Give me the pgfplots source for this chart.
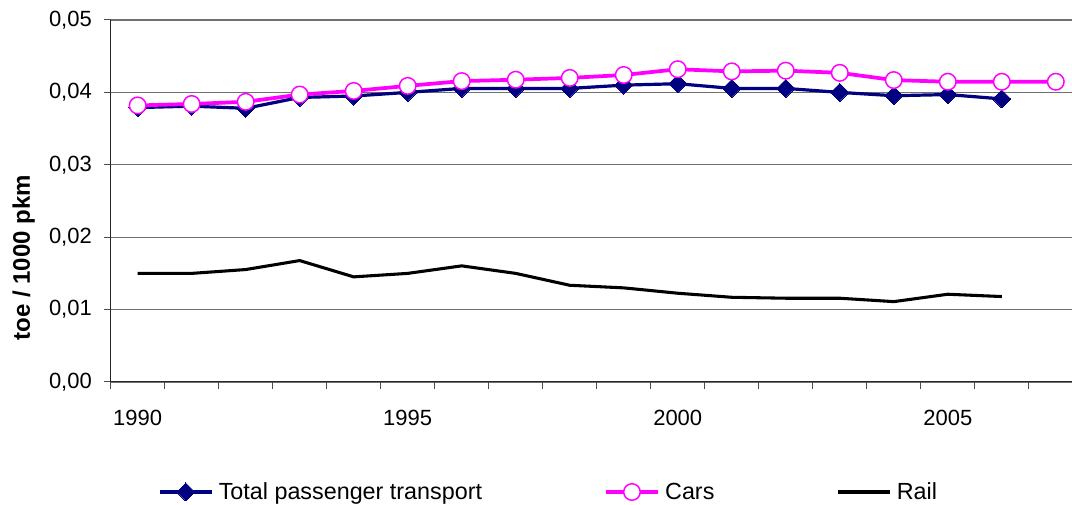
\documentclass[border=0pt]{standalone}
\usepackage{fontspec}
\setmainfont{Liberation Sans}
\usepackage{pgfplots}
\pgfplotsset{compat=1.18}
\definecolor{navyc}{HTML}{000080}
\definecolor{magc}{HTML}{FF00FF}
\definecolor{gridc}{HTML}{707070}
\begin{document}
\begin{tikzpicture}
\begin{axis}[
  name=ax,
  scale only axis,
  width=721pt, height=271.5pt,
  xmin=1989.5, xmax=2007.3,
  ymin=0, ymax=0.05,
  axis x line*=bottom, axis y line*=left,
  axis line style={-, draw=black!85, line width=0.75pt},
  tick align=outside,
  xtick={1989.5,1990.5,...,2006.5},
  xticklabels={},
  extra x ticks={1990,1995,2000,2005},
  extra x tick labels={1990,1995,2000,2005},
  extra x tick style={major tick length=0pt, grid=none},
  major tick length=5.25pt,
  tick style={draw=black!70, line width=0.75pt},
  ytick={0,0.01,0.02,0.03,0.04,0.05},
  scaled y ticks=false,
  ymajorgrids,
  major grid style={draw=gridc, line width=0.9pt},
  /pgf/number format/assume math mode=true,
  /pgf/number format/fixed,
  /pgf/number format/fixed zerofill,
  /pgf/number format/precision=2,
  /pgf/number format/use comma,
  yticklabel style={anchor=east, inner sep=0pt, xshift=-8.7pt},
  xticklabel style={anchor=center, inner sep=0pt, yshift=-26.6pt},
  tick label style={font=\fontsize{16.5}{20}\selectfont},
  ylabel={\textbf{toe / 1000 pkm}},
  ylabel style={at={(axis description cs:-0.0906,0.343)}, anchor=center, font=\fontsize{18}{21}\selectfont},
  legend columns=3,
  legend style={at={(axis description cs:0,0)}, anchor=west, xshift=35.5pt, yshift=-82.5pt,
    draw=none, fill=none, inner sep=0pt, font=\fontsize{17.5}{21}\selectfont,
    /tikz/every odd column/.append style={column sep=2pt},
    /tikz/every even column/.append style={column sep=89.5pt}},
  legend image code/.code={\draw[mark repeat=2,mark phase=2] plot coordinates {(0pt,0pt) (19.5pt,0pt) (39pt,0pt)};},
  clip=false,
]
\addplot[navyc, line width=2.4pt, mark=square*, mark size=4.77pt,
  mark options={rotate=45, fill=navyc, draw=navyc, line width=0pt, solid}]
 coordinates {
 (1990,0.0379) (1991,0.0381) (1992,0.0378) (1993,0.0393) (1994,0.0395)
 (1995,0.0400) (1996,0.04055) (1997,0.04055) (1998,0.04055) (1999,0.0410)
 (2000,0.0412) (2001,0.04055) (2002,0.04055) (2003,0.0400) (2004,0.03954)
 (2005,0.0397) (2006,0.0391)
 };
\addlegendentry{Total passenger transport}
\addplot[magc, line width=2.8pt, mark=*, mark size=6.2pt,
  mark options={fill=white, draw=magc, line width=1.1pt, solid}]
 coordinates {
 (1990,0.0382) (1991,0.0384) (1992,0.0387) (1993,0.0397) (1994,0.0402)
 (1995,0.0409) (1996,0.04156) (1997,0.04175) (1998,0.0420) (1999,0.0424)
 (2000,0.0432) (2001,0.0429) (2002,0.0430) (2003,0.0427) (2004,0.0417)
 (2005,0.04147) (2006,0.04147) (2007,0.04147)
 };
\addlegendentry{Cars}
\addplot[black, line width=2.3pt, mark=none]
 coordinates {
 (1990,0.0150) (1991,0.0150) (1992,0.01553) (1993,0.01677) (1994,0.01452)
 (1995,0.0150) (1996,0.01604) (1997,0.0150) (1998,0.01336) (1999,0.0130)
 (2000,0.01226) (2001,0.0117) (2002,0.01157) (2003,0.01157) (2004,0.0111)
 (2005,0.01212) (2006,0.0118)
 };
\addlegendentry{Rail}
\end{axis}
\pgfresetboundingbox
\path ([xshift=-83pt,yshift=-92.25pt]ax.south west) rectangle ([yshift=15pt]ax.north east);
\end{tikzpicture}
\end{document}
